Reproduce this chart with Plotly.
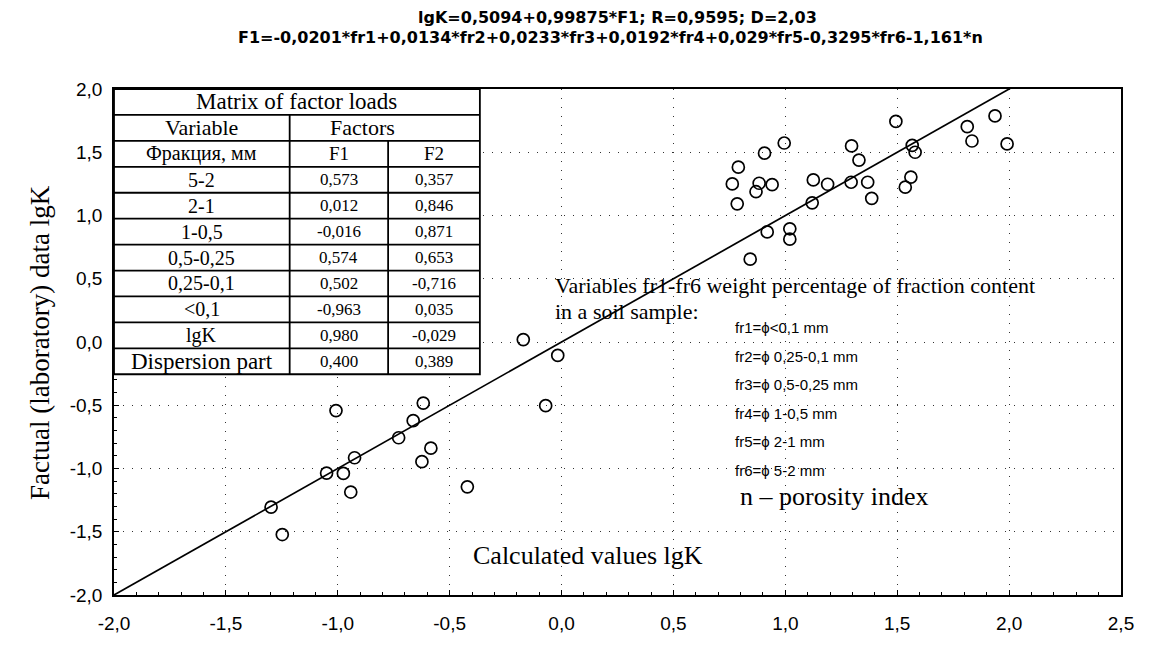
import plotly.graph_objects as go

# ---------------- data ----------------
title_line1 = "lgK=0,5094+0,99875*F1; R=0,9595; D=2,03"
title_line2 = "F1=-0,0201*fr1+0,0134*fr2+0,0233*fr3+0,0192*fr4+0,029*fr5-0,3295*fr6-1,161*n"

x_calc = [1.494, 1.937, 1.813, 1.834, 1.991, 0.995, 0.907, 0.790, 0.763, 0.883,
          0.869, 0.941, 0.785, 1.125, 1.189, 1.120, 1.296, 1.329, 1.294, 1.368,
          1.386, 1.567, 1.580, 1.561, 1.536, 0.919, 1.020, 1.020, 0.843,
          -0.171, -0.017, -0.071, -1.008, -0.618, -0.663, -0.728, -0.925, -0.584,
          -0.624, -1.050, -0.975, -0.942, -0.421, -1.298, -1.248]
y_fact = [1.744, 1.787, 1.702, 1.589, 1.566, 1.573, 1.493, 1.382, 1.250, 1.255,
          1.188, 1.244, 1.092, 1.281, 1.247, 1.100, 1.550, 1.438, 1.263, 1.263,
          1.136, 1.555, 1.500, 1.304, 1.224, 0.870, 0.895, 0.813, 0.655,
          0.019, -0.106, -0.503, -0.542, -0.483, -0.622, -0.757, -0.915, -0.839,
          -0.946, -1.036, -1.039, -1.186, -1.145, -1.305, -1.522]

fit_slope = 1.0
fit_intercept = 0.0
fit_x = [-2.0, 2.02]

tick_vals_x = [-2.0, -1.5, -1.0, -0.5, 0.0, 0.5, 1.0, 1.5, 2.0, 2.5]
tick_text_x = ["-2,0", "-1,5", "-1,0", "-0,5", "0,0", "0,5", "1,0", "1,5", "2,0", "2,5"]
tick_vals_y = [-2.0, -1.5, -1.0, -0.5, 0.0, 0.5, 1.0, 1.5, 2.0]
tick_text_y = ["-2,0", "-1,5", "-1,0", "-0,5", "0,0", "0,5", "1,0", "1,5", "2,0"]

table_title = "Matrix of factor loads"
table_head1 = ["Variable", "Factors"]
table_head2 = ["Фракция, мм", "F1", "F2"]
table_rows = ["5-2", "2-1", "1-0,5", "0,5-0,25", "0,25-0,1", "&lt;0,1", "lgK", "Dispersion part"]
f1_loads = ["0,573", "0,012", "-0,016", "0,574", "0,502", "-0,963", "0,980", "0,400"]
f2_loads = ["0,357", "0,846", "0,871", "0,653", "-0,716", "0,035", "-0,029", "0,389"]

note_lines = ["Variables fr1-fr6 weight percentage of fraction content", "in a soil sample:"]
fraction_defs = ["fr1=ϕ&lt;0,1 mm", "fr2=ϕ 0,25-0,1 mm", "fr3=ϕ 0,5-0,25 mm",
                 "fr4=ϕ 1-0,5 mm", "fr5=ϕ 2-1 mm", "fr6=ϕ 5-2 mm"]
porosity_note = "n – porosity index"
x_title = "Calculated values lgK"
y_title = "Factual (laboratory) data lgK"

# ---------------- figure ----------------
SERIF = "Liberation Serif, Times New Roman, serif"
SANS = "Liberation Sans, Arial, sans-serif"
WIDE_SANS = "DejaVu Sans, Verdana, sans-serif"

fig = go.Figure()

fig.add_trace(go.Scatter(
    x=fit_x, y=[fit_intercept + fit_slope * v for v in fit_x],
    mode="lines", line=dict(color="black", width=1.7),
    showlegend=False, hoverinfo="skip"))

fig.add_trace(go.Scatter(
    x=x_calc, y=y_fact, mode="markers",
    marker=dict(symbol="circle-open", size=12, color="black", line=dict(width=1.7)),
    showlegend=False))

shapes = []
annotations = []

# ----- table (data coordinates) -----
tx0, tx1 = -2.0, -0.365
c1, c2 = -1.215, -0.775
ty_top, ty_bot = 2.0, -0.255
n_rows = 11
rh = (ty_top - ty_bot) / n_rows
lw = 1.8

shapes.append(dict(type="rect", xref="x", yref="y", x0=tx0, x1=tx1, y0=ty_bot, y1=ty_top,
                   line=dict(color="black", width=lw), fillcolor="white", layer="above"))
for i in range(1, n_rows):
    yy = ty_top - i * rh
    shapes.append(dict(type="line", xref="x", yref="y", x0=tx0, x1=tx1, y0=yy, y1=yy,
                       line=dict(color="black", width=lw), layer="above"))
shapes.append(dict(type="line", xref="x", yref="y", x0=c1, x1=c1,
                   y0=ty_bot, y1=ty_top - rh, line=dict(color="black", width=lw), layer="above"))
shapes.append(dict(type="line", xref="x", yref="y", x0=c2, x1=c2,
                   y0=ty_bot, y1=ty_top - 2 * rh, line=dict(color="black", width=lw), layer="above"))

def row_y(i):
    return ty_top - (i + 0.5) * rh

def cell(text, x, y, size, family=SERIF, bold=False):
    annotations.append(dict(
        x=x, y=y, xref="x", yref="y", text=(f"<b>{text}</b>" if bold else text),
        showarrow=False, xanchor="center", yanchor="middle",
        font=dict(family=family, size=size, color="black")))

cx0 = (tx0 + c1) / 2
cx1 = (c1 + c2) / 2
cx2 = (c2 + tx1) / 2
cell(table_title, (tx0 + tx1) / 2, row_y(0), 23)
cell(table_head1[0], cx0, row_y(1), 22)
cell(table_head1[1], (c1 + tx1) / 2 - 0.1, row_y(1), 22)
cell(table_head2[0], cx0, row_y(2), 20)
cell(table_head2[1], cx1, row_y(2), 19)
cell(table_head2[2], cx2, row_y(2), 19)
for k, (name, a, b) in enumerate(zip(table_rows, f1_loads, f2_loads)):
    r = 3 + k
    cell(name, cx0, row_y(r), 23 if k == len(table_rows) - 1 else 20)
    cell(a, cx1, row_y(r), 17)
    cell(b, cx2, row_y(r), 17)

# ----- text annotations -----
def text_at(text, x, y, size, family=SERIF, xanchor="left"):
    annotations.append(dict(
        x=x, y=y, xref="x", yref="y", text=text, showarrow=False,
        xanchor=xanchor, yanchor="middle",
        font=dict(family=family, size=size, color="black")))

text_at(note_lines[0], -0.04, 0.447, 22)
text_at(note_lines[1], -0.04, 0.243, 22)
fr_y = [0.111, -0.114, -0.339, -0.565, -0.790, -1.015]
for t, yy in zip(fraction_defs, fr_y):
    text_at(t, 0.766, yy, 15, family=SANS)
text_at(porosity_note, 0.79, -1.224, 26)
text_at(x_title, 0.118, -1.69, 26, xanchor="center")

annotations.append(dict(x=-0.0735, y=0.5, xref="paper", yref="paper", text=y_title,
                        textangle=-90, showarrow=False, xanchor="center", yanchor="middle",
                        font=dict(family=SERIF, size=27, color="black")))
annotations.append(dict(x=0.5, y=1.1415, xref="paper", yref="paper", text=f"<b>{title_line1}</b>",
                        showarrow=False, xanchor="center", yanchor="middle",
                        font=dict(family=WIDE_SANS, size=16, color="black")))
annotations.append(dict(x=0.493, y=1.1008, xref="paper", yref="paper", text=f"<b>{title_line2}</b>",
                        showarrow=False, xanchor="center", yanchor="middle",
                        font=dict(family=WIDE_SANS, size=16, color="black")))

axis_common = dict(
    showline=True, linecolor="black", linewidth=1.6, mirror=True,
    ticks="inside", ticklen=5, tickcolor="black", tickwidth=1.2,
    showgrid=True, gridcolor="#333333", gridwidth=1, griddash="1px,8px",
    zeroline=False,
    minor=dict(ticks="inside", ticklen=3, tickcolor="black", dtick=0.1, showgrid=False),
    tickfont=dict(family=SANS, size=19, color="black"),
)

fig.update_layout(
    width=1155, height=646,
    margin=dict(l=114, r=34, t=89, b=41),
    paper_bgcolor="white", plot_bgcolor="white",
    shapes=shapes, annotations=annotations,
    xaxis=dict(range=[-2.0, 2.5], tickvals=tick_vals_x, ticktext=tick_text_x,
               ticklabelstandoff=10, **axis_common),
    yaxis=dict(range=[-2.0, 2.0], tickvals=tick_vals_y, ticktext=tick_text_y,
               ticklabelstandoff=6, **axis_common),
)

fig.write_html("out.html")
